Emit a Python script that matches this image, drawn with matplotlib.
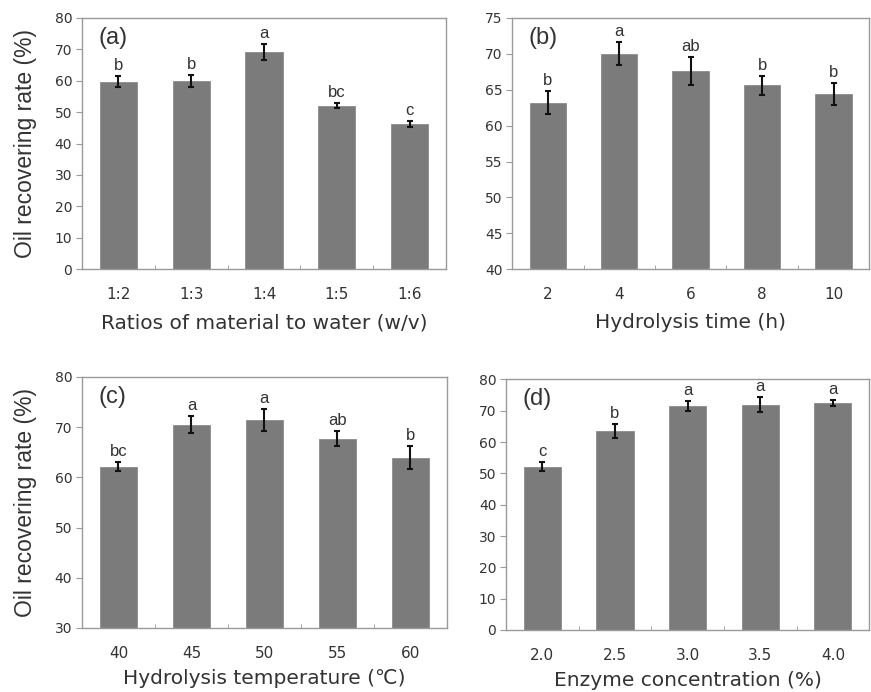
import matplotlib
matplotlib.use("Agg")
import matplotlib.pyplot as plt
import numpy as np

# ---- data ----
cats_a = ["1:2", "1:3", "1:4", "1:5", "1:6"]
vals_a = [59.7, 59.9, 69.1, 52.1, 46.3]
errs_a = [1.7, 2.0, 2.5, 0.9, 1.0]
sig_a = ["b", "b", "a", "bc", "c"]

cats_b = ["2", "4", "6", "8", "10"]
vals_b = [63.2, 70.0, 67.6, 65.6, 64.4]
errs_b = [1.6, 1.6, 2.0, 1.3, 1.5]
sig_b = ["b", "a", "ab", "b", "b"]

cats_c = ["40", "45", "50", "55", "60"]
vals_c = [62.1, 70.5, 71.4, 67.7, 63.9]
errs_c = [0.9, 1.7, 2.2, 1.5, 2.3]
sig_c = ["bc", "a", "a", "ab", "b"]

cats_d = ["2.0", "2.5", "3.0", "3.5", "4.0"]
vals_d = [52.2, 63.5, 71.5, 72.0, 72.5]
errs_d = [1.4, 2.3, 1.5, 2.4, 1.0]
sig_d = ["c", "b", "a", "a", "a"]

panels = [
    dict(cats=cats_a, vals=vals_a, errs=errs_a, sig=sig_a, tag="(a)",
         xlabel="Ratios of material to water (w/v)", ylim=(0, 80), yticks=np.arange(0, 81, 10),
         rect=[0.0941, 0.611, 0.418, 0.363], ylabel=True),
    dict(cats=cats_b, vals=vals_b, errs=errs_b, sig=sig_b, tag="(b)",
         xlabel="Hydrolysis time (h)", ylim=(40, 75), yticks=np.arange(40, 76, 5),
         rect=[0.588, 0.611, 0.410, 0.363], ylabel=False),
    dict(cats=cats_c, vals=vals_c, errs=errs_c, sig=sig_c, tag="(c)",
         xlabel="Hydrolysis temperature (\u2103)", ylim=(30, 80), yticks=np.arange(30, 81, 10),
         rect=[0.0941, 0.0925, 0.419, 0.363], ylabel=True),
    dict(cats=cats_d, vals=vals_d, errs=errs_d, sig=sig_d, tag="(d)",
         xlabel="Enzyme concentration (%)", ylim=(0, 80), yticks=np.arange(0, 81, 10),
         rect=[0.581, 0.0896, 0.417, 0.362], ylabel=False),
]

BAR = "#7b7b7b"
FRAME = "#9a9a9a"
TXT = "#333333"
ARIAL = ["Liberation Sans", "DejaVu Sans"]
WIDE = ["DejaVu Sans"]

fig = plt.figure(figsize=(8.71, 6.92), dpi=100)

for i, p in enumerate(panels):
    ax = fig.add_axes(p["rect"])
    x = np.arange(len(p["cats"]))
    ax.bar(x, p["vals"], width=0.51, color=BAR, edgecolor="#8c8c8c", linewidth=0.6, zorder=2)
    ax.errorbar(x, p["vals"], yerr=p["errs"], fmt="none", ecolor="#111111",
                elinewidth=1.5, capsize=2.5, capthick=1.5, zorder=3)
    lo, hi = p["ylim"]
    rng = hi - lo
    for xi, v, e, s in zip(x, p["vals"], p["errs"], p["sig"]):
        ax.text(xi, v + e + rng * 0.012, s, ha="center", va="bottom",
                fontsize=12, color=TXT, family=ARIAL)
    ax.set_xlim(-0.5, len(x) - 0.5)
    ax.set_ylim(lo, hi)
    ax.set_yticks(p["yticks"])
    ax.set_xticks(x)
    ax.set_xticklabels(p["cats"], family=WIDE, fontsize=11, color=TXT)
    ax.set_xticks(np.arange(0.5, len(x) - 0.5, 1), minor=True)
    for lab in ax.get_yticklabels():
        lab.set_family(WIDE)
        lab.set_fontsize(10)
        lab.set_color(TXT)
    ax.tick_params(axis="x", which="major", length=0, pad=13)
    ax.tick_params(axis="x", which="minor", length=3, direction="in", color=FRAME)
    ax.tick_params(axis="y", which="major", length=4, direction="out", color=FRAME, pad=3)
    for sp in ax.spines.values():
        sp.set_color(FRAME)
        sp.set_linewidth(1.0)
    ax.set_xlabel(p["xlabel"], family=WIDE, fontsize=14.5, color=TXT,
                  labelpad=8 if i < 2 else 6)
    if p["ylabel"]:
        ax.set_ylabel("Oil recovering rate (%)", family=ARIAL, fontsize=16.5, color=TXT)
        ax.yaxis.set_label_coords(-0.124, 0.5)
    ax.text(0.045, 0.965, p["tag"], transform=ax.transAxes, ha="left", va="top",
            fontsize=17, color=TXT, family=ARIAL)

fig.savefig("out.png", dpi=100)
